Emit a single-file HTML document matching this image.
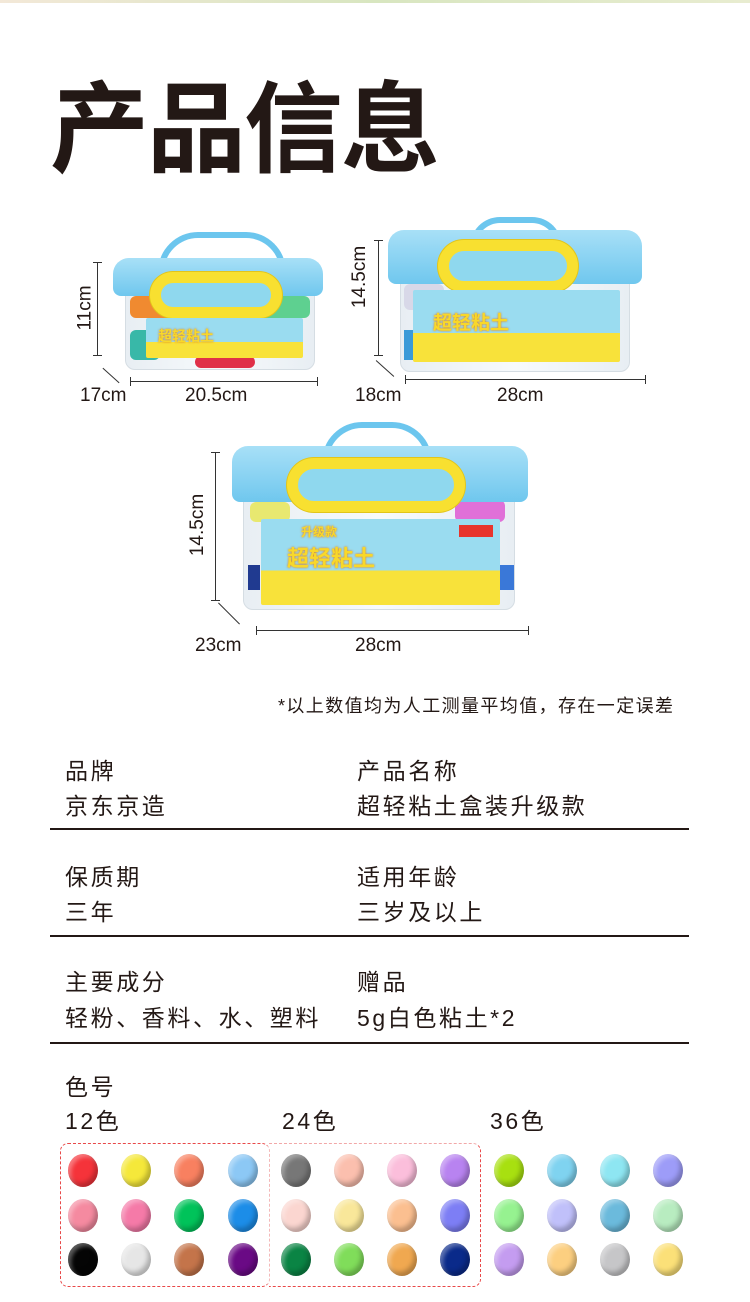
<!DOCTYPE html>
<html><head><meta charset="utf-8"><style>
*{margin:0;padding:0;box-sizing:border-box}
body{width:750px;height:1302px;background:#fff;position:relative;overflow:hidden;font-family:"Liberation Sans","Noto Sans CJK SC",sans-serif;color:#231815}
.a{position:absolute}
.t{font-size:23px;letter-spacing:2.6px;color:#231815;white-space:nowrap}
.hl{position:absolute;left:50px;width:639px;height:2px;background:#231815}
.o{position:absolute;width:30px;height:33px;border-radius:50%;box-shadow:inset -3px -4px 5px rgba(0,0,0,.25),inset 3px 3px 4px rgba(255,255,255,.35)}
.dim{position:absolute;background:#333}
.lab{position:absolute;font-size:19px;color:#231815;white-space:nowrap}
.handle{position:absolute;border:6px solid #6cc6ee;border-bottom:none;border-radius:40px 40px 0 0}
.lid{position:absolute;background:linear-gradient(#a8e0f7,#6fc7ee);border-radius:16px 16px 8px 8px}
.body{position:absolute;background:linear-gradient(90deg,#e8eef3,#f7fafc,#e8eef3);border:1px solid #d5dde3;border-radius:0 0 10px 10px}
.ring{position:absolute;border:11px solid #f8e030;border-radius:30px;background:#8fd8ee;box-shadow:0 0 0 1px #e2c51a}
.label{position:absolute;background:linear-gradient(#9adcf0 60%,#f8e23a 60%);border-radius:2px;overflow:hidden}
.label span{position:absolute;font-weight:bold;color:#f8d82a;text-shadow:0 0 2px #e07a10;white-space:nowrap}
</style></head><body>
<div class="a" style="left:0;top:0;width:750px;height:3px;background:linear-gradient(90deg,#f3e8d8,#d8e6c0,#e8ecd0)"></div>
<div class="a" style="left:50px;top:70px;font-size:99px;font-weight:bold;letter-spacing:-2px;line-height:120px;color:#231815">产品信息</div>

<!-- box1 -->
<div class="handle" style="left:158px;top:232px;width:128px;height:40px"></div>
<div class="body" style="left:125px;top:292px;width:190px;height:78px"></div>
<div class="a" style="left:130px;top:296px;width:60px;height:22px;background:#f08a30;border-radius:6px"></div>
<div class="a" style="left:252px;top:296px;width:58px;height:22px;background:#5ed090;border-radius:6px"></div>
<div class="a" style="left:130px;top:330px;width:30px;height:30px;background:#38b8a8;border-radius:6px"></div>
<div class="a" style="left:195px;top:356px;width:60px;height:12px;background:#e03048;border-radius:6px"></div>
<div class="lid" style="left:113px;top:258px;width:210px;height:38px"></div>
<div class="ring" style="left:150px;top:272px;width:132px;height:46px"></div>
<div class="label" style="left:146px;top:318px;width:157px;height:40px"><span style="left:12px;top:8px;font-size:14px">超轻粘土</span></div>
<div class="dim" style="left:97px;top:262px;width:1px;height:93px"></div>
<div class="dim" style="left:93px;top:262px;width:9px;height:1px"></div>
<div class="dim" style="left:93px;top:355px;width:9px;height:1px"></div>
<div class="dim" style="left:100px;top:375px;width:22px;height:1px;transform:rotate(42deg)"></div>
<div class="dim" style="left:130px;top:381px;width:188px;height:1px"></div>
<div class="dim" style="left:130px;top:377px;width:1px;height:9px"></div>
<div class="dim" style="left:317px;top:377px;width:1px;height:9px"></div>
<div class="lab" style="left:63px;top:297px;transform:rotate(-90deg)">11cm</div>
<div class="lab" style="left:80px;top:385px">17cm</div>
<div class="lab" style="left:185px;top:385px">20.5cm</div>

<!-- box2 -->
<div class="handle" style="left:470px;top:217px;width:92px;height:30px"></div>
<div class="body" style="left:400px;top:280px;width:230px;height:92px"></div>
<div class="a" style="left:404px;top:284px;width:40px;height:26px;background:#d8d8e8;border-radius:6px"></div>
<div class="a" style="left:404px;top:330px;width:12px;height:30px;background:#3a9ad8"></div>
<div class="lid" style="left:388px;top:230px;width:254px;height:54px"></div>
<div class="ring" style="left:438px;top:240px;width:140px;height:52px"></div>
<div class="label" style="left:413px;top:290px;width:207px;height:72px"><span style="left:20px;top:18px;font-size:19px">超轻粘土</span></div>
<div class="dim" style="left:378px;top:240px;width:1px;height:115px"></div>
<div class="dim" style="left:374px;top:240px;width:9px;height:1px"></div>
<div class="dim" style="left:374px;top:355px;width:9px;height:1px"></div>
<div class="dim" style="left:373px;top:368px;width:24px;height:1px;transform:rotate(42deg)"></div>
<div class="dim" style="left:405px;top:379px;width:240px;height:1px"></div>
<div class="dim" style="left:405px;top:375px;width:1px;height:9px"></div>
<div class="dim" style="left:645px;top:375px;width:1px;height:9px"></div>
<div class="lab" style="left:329px;top:266px;transform:rotate(-90deg)">14.5cm</div>
<div class="lab" style="left:355px;top:385px">18cm</div>
<div class="lab" style="left:497px;top:385px">28cm</div>

<!-- box3 -->
<div class="handle" style="left:322px;top:422px;width:110px;height:40px"></div>
<div class="body" style="left:243px;top:498px;width:272px;height:112px"></div>
<div class="a" style="left:250px;top:502px;width:40px;height:20px;background:#e8e870;border-radius:6px"></div>
<div class="a" style="left:455px;top:500px;width:50px;height:22px;background:#e070d8;border-radius:6px"></div>
<div class="a" style="left:248px;top:565px;width:12px;height:25px;background:#203a90"></div>
<div class="a" style="left:500px;top:565px;width:14px;height:25px;background:#3a78d8"></div>
<div class="lid" style="left:232px;top:446px;width:296px;height:56px"></div>
<div class="ring" style="left:287px;top:458px;width:178px;height:54px"></div>
<div class="label" style="left:261px;top:519px;width:239px;height:86px"><span style="left:26px;top:22px;font-size:22px">超轻粘土</span><span style="left:40px;top:4px;font-size:12px">升级款</span><div class="a" style="left:198px;top:6px;width:34px;height:12px;background:#e8342c"></div></div>
<div class="dim" style="left:215px;top:452px;width:1px;height:148px"></div>
<div class="dim" style="left:211px;top:452px;width:9px;height:1px"></div>
<div class="dim" style="left:211px;top:600px;width:9px;height:1px"></div>
<div class="dim" style="left:214px;top:613px;width:30px;height:1px;transform:rotate(45deg)"></div>
<div class="dim" style="left:256px;top:630px;width:272px;height:1px"></div>
<div class="dim" style="left:256px;top:626px;width:1px;height:9px"></div>
<div class="dim" style="left:528px;top:626px;width:1px;height:9px"></div>
<div class="lab" style="left:167px;top:514px;transform:rotate(-90deg)">14.5cm</div>
<div class="lab" style="left:195px;top:635px">23cm</div>
<div class="lab" style="left:355px;top:635px">28cm</div>

<div class="a" style="left:278px;top:692px;font-size:18px;letter-spacing:1.4px;white-space:nowrap">*以上数值均为人工测量平均值，存在一定误差</div>

<div class="a t" style="left:65px;top:752px">品牌</div>
<div class="a t" style="left:65px;top:787px">京东京造</div>
<div class="a t" style="left:357px;top:752px">产品名称</div>
<div class="a t" style="left:357px;top:787px">超轻粘土盒装升级款</div>
<div class="hl" style="top:828px"></div>
<div class="a t" style="left:65px;top:858px">保质期</div>
<div class="a t" style="left:65px;top:893px">三年</div>
<div class="a t" style="left:357px;top:858px">适用年龄</div>
<div class="a t" style="left:357px;top:893px">三岁及以上</div>
<div class="hl" style="top:935px"></div>
<div class="a t" style="left:65px;top:963px">主要成分</div>
<div class="a t" style="left:65px;top:999px">轻粉、香料、水、塑料</div>
<div class="a t" style="left:357px;top:963px">赠品</div>
<div class="a t" style="left:357px;top:999px">5g白色粘土*2</div>
<div class="hl" style="top:1042px"></div>
<div class="a t" style="left:65px;top:1068px">色号</div>
<div class="a t" style="left:65px;top:1102px">12色</div>
<div class="a t" style="left:282px;top:1102px">24色</div>
<div class="a t" style="left:490px;top:1102px">36色</div>

<div class="a" style="left:60px;top:1143px;width:210px;height:144px;border:1.5px dashed #e84848;border-radius:8px;border-right-color:#f4b8b8"></div>
<div class="a" style="left:269px;top:1143px;width:212px;height:144px;border:1.5px dashed #e84848;border-left:none;border-radius:0 8px 8px 0;border-top-color:#f2a8a8"></div>

<div id="sw"></div>
<script>
var c=[["#f5333a","#f5e83a","#f88060","#8cc8f5","#777777","#fbbfae","#fbbedb","#b883f0","#a8e010","#7fd3f0","#8ee6f2","#9d9cf8"],
["#f58aa0","#f57aa8","#00c35a","#1c8de8","#fbd6d0","#f9e79a","#fbbf90","#7d7ef5","#96f290","#c0c0fa","#6bbadc","#b8ecc0"],
["#050505","#e6e6e6","#c4744a","#6a0a85","#0a8444","#80dd5a","#f0a850","#0a2a8a","#c49cf0","#fccf80","#c6c6c8","#fbe078"]];
var ys=[1154,1199,1243],h="";
for(var r=0;r<3;r++)for(var i=0;i<12;i++){h+='<div class="o" style="left:'+(68+i*53.2).toFixed(1)+'px;top:'+ys[r]+'px;background:'+c[r][i]+'"></div>';}
document.getElementById("sw").innerHTML=h;
</script>
</body></html>
